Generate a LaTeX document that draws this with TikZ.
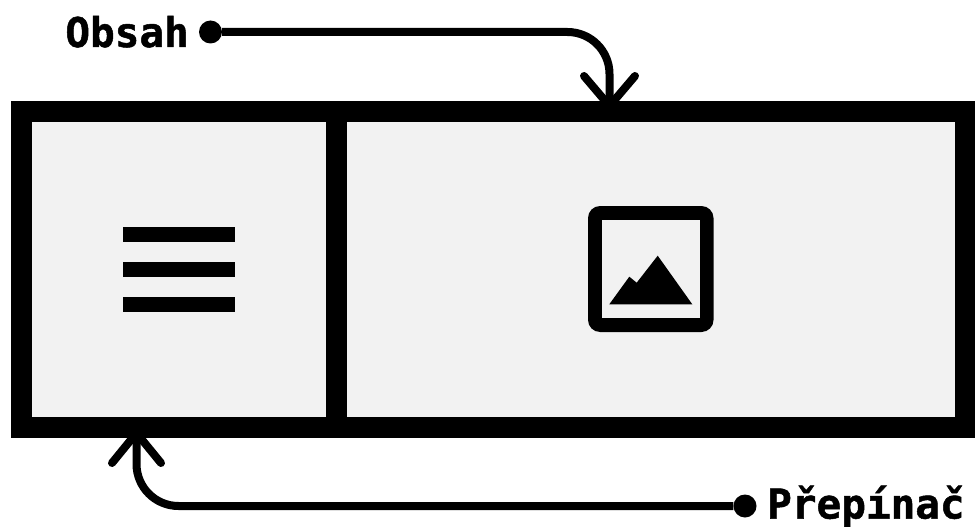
\documentclass[tikz,border=0pt]{standalone}
\usepackage{fontspec}
\setmonofont[BoldFeatures={FakeBold=1.2}]{DejaVu Sans Mono}
\definecolor{panelgray}{HTML}{F2F2F2}
\tikzset{
  panel/.style={draw=black,fill=panelgray,line width=21pt,inner sep=0pt,minimum height=315.5pt},
  pin/.style={circle,fill=black,inner sep=0pt,minimum size=23pt},
  wire/.style={line width=8pt,rounded corners=42pt},
  barb/.style={line width=8pt,line cap=round},
  lbl/.style={font=\ttfamily\bfseries\fontsize{41}{41}\selectfont,inner sep=0pt}
}
\begin{document}
\begin{tikzpicture}[x=1pt,y=-1pt]
  \useasboundingbox (0,0) rectangle (975,527);
  % arrowheads go under the frame
  \coordinate (obsahend) at (609.5,101);
  \coordinate (prepinacend) at (136.5,437);
  \draw[barb] (584,76) -- (609.5,106) -- (635,76);
  \draw[barb] (112,463) -- (136.5,433) -- (161,463);
  \node[panel,minimum width=315pt] (toggle) at (179,269.25) {};
  \node[panel,minimum width=629pt] (content) at (651,269.25) {};
  % hamburger
  \foreach \y in {227,262,297} {
    \fill (123,\y) rectangle (235,\y+14.5);
  }
  % picture icon
  \fill[rounded corners=12pt] (588,206) rectangle (713.5,332);
  \fill[panelgray] (602,220) rectangle (700,318);
  \fill (609.3,304.3) -- (629.3,276.7) -- (636.7,282.7) -- (657.7,255.7) -- (692.3,304.3) -- cycle;
  % labels and pins
  \node[pin] (obsahdot) at (210.5,32) {};
  \node[lbl,anchor=base east] (obsah) at (189,47) {Obsah};
  \node[pin] (prepinacdot) at (745,506) {};
  \node[lbl,anchor=base west] (prepinac) at (767,518.5) {Přepínač};
  \draw[wire] (obsahdot) -| (obsahend);
  \draw[wire] (prepinacdot) -| (prepinacend);
\end{tikzpicture}
\end{document}
